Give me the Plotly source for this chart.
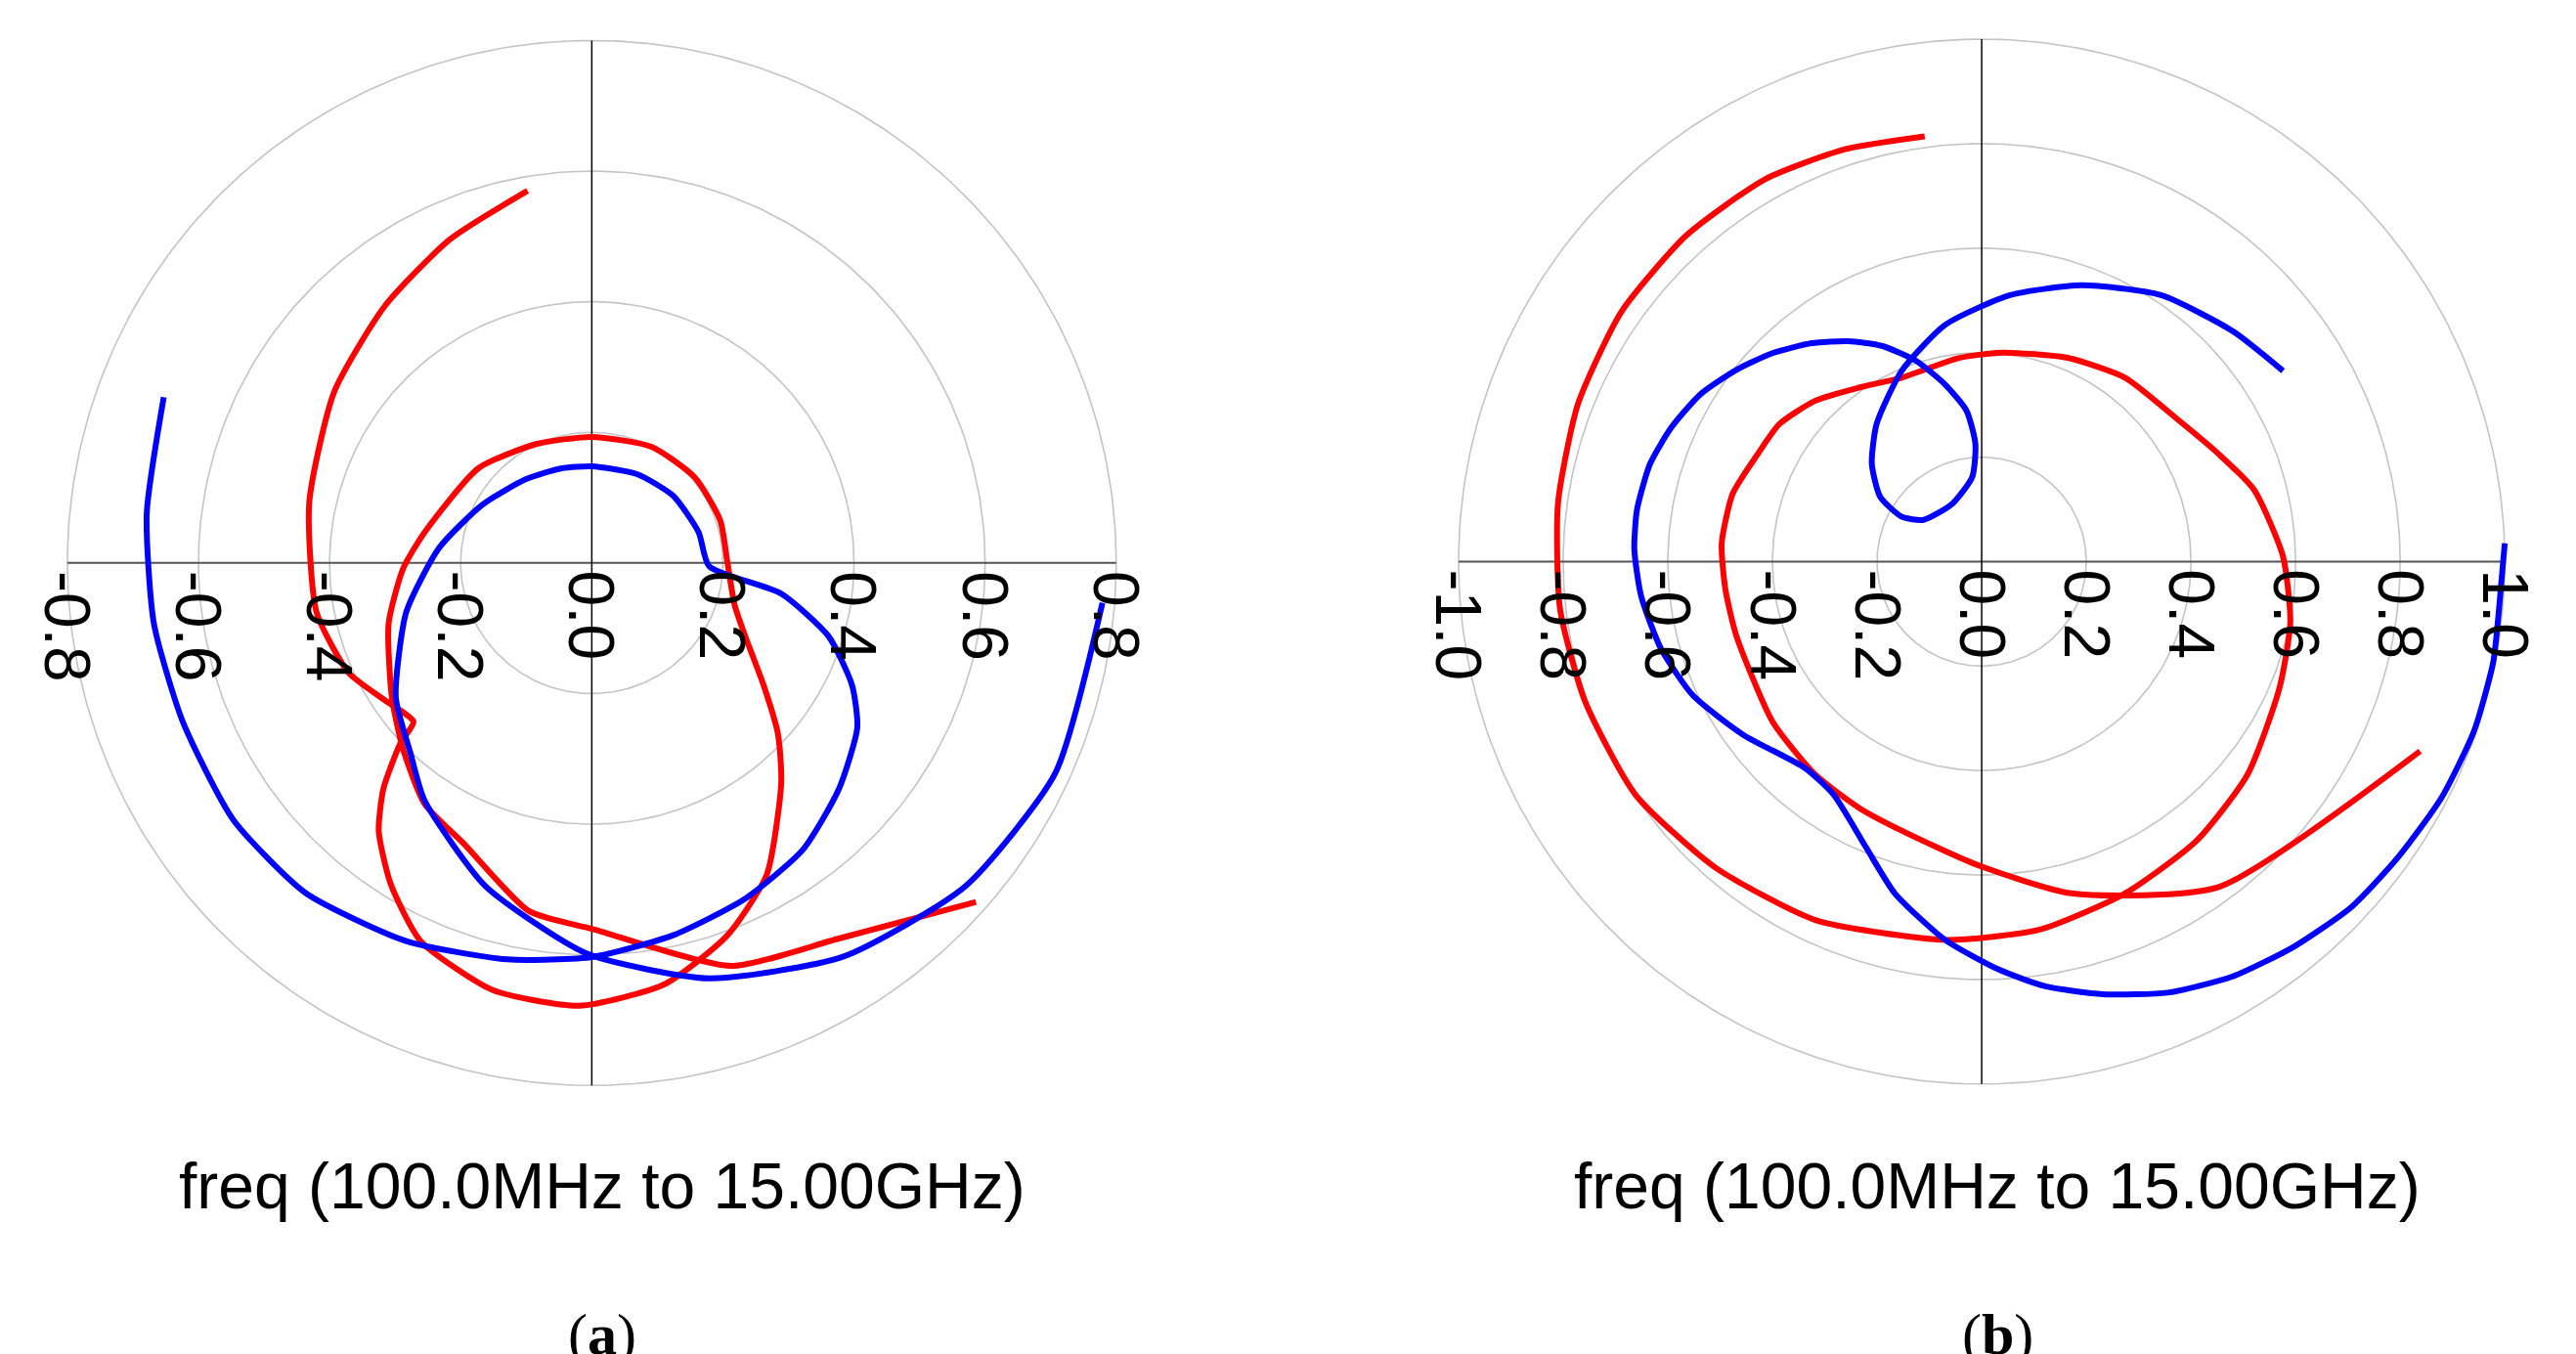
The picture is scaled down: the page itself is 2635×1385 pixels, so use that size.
import numpy as np
import plotly.graph_objects as go

# ---- data (Cartesian reflection-coefficient coordinates) ----
ticks_a = [-0.8, -0.6, -0.4, -0.2, 0.0, 0.2, 0.4, 0.6, 0.8]
ticks_b = [-1.0, -0.8, -0.6, -0.4, -0.2, 0.0, 0.2, 0.4, 0.6, 0.8, 1.0]
rings_a = [0.2, 0.4, 0.6, 0.8]
rings_b = [0.2, 0.4, 0.6, 0.8, 1.0]
title_text = "freq (100.0MHz to 15.00GHz)"

red_a_x = [-0.098,-0.217,-0.316,-0.393,-0.431,-0.420,-0.371,-0.316,-0.272,-0.292,-0.318,-0.325,-0.307,-0.261,-0.151,-0.019,0.111,0.207,0.267,0.289,0.284,0.262,0.234,0.218,0.207,0.196,0.157,0.091,0.0,-0.085,-0.173,-0.255,-0.288,-0.310,-0.305,-0.288,-0.255,-0.195,-0.096,0.003,0.212,0.377,0.586]
red_a_y = [0.570,0.495,0.393,0.262,0.093,-0.075,-0.168,-0.210,-0.243,-0.276,-0.346,-0.411,-0.491,-0.579,-0.654,-0.678,-0.645,-0.570,-0.477,-0.336,-0.262,-0.187,-0.112,-0.065,0.0,0.065,0.131,0.178,0.193,0.182,0.145,0.047,-0.009,-0.093,-0.206,-0.285,-0.369,-0.430,-0.533,-0.561,-0.617,-0.575,-0.519]
blue_a_x = [-0.653,-0.679,-0.668,-0.624,-0.547,-0.437,-0.283,-0.129,0.003,0.124,0.234,0.322,0.377,0.405,0.397,0.361,0.289,0.179,0.163,0.124,0.069,0.0,-0.046,-0.101,-0.167,-0.233,-0.283,-0.299,-0.277,-0.255,-0.162,-0.008,0.179,0.383,0.570,0.707,0.779]
blue_a_y = [0.254,0.075,-0.093,-0.243,-0.393,-0.505,-0.579,-0.607,-0.603,-0.570,-0.514,-0.439,-0.346,-0.252,-0.187,-0.112,-0.047,-0.005,0.047,0.103,0.136,0.148,0.145,0.128,0.089,0.023,-0.075,-0.206,-0.290,-0.364,-0.495,-0.598,-0.636,-0.603,-0.495,-0.322,-0.061]

red_b_x = [-0.109,-0.263,-0.414,-0.565,-0.689,-0.772,-0.810,-0.806,-0.758,-0.662,-0.510,-0.318,-0.070,0.109,0.274,0.411,0.508,0.569,0.590,0.576,0.521,0.453,0.370,0.274,0.164,0.040,-0.043,-0.153,-0.235,-0.318,-0.387,-0.428,-0.476,-0.497,-0.490,-0.469,-0.400,-0.318,-0.235,-0.153,-0.015,0.171,0.453,0.838]
red_b_y = [0.814,0.789,0.732,0.624,0.478,0.301,0.111,-0.091,-0.268,-0.446,-0.585,-0.686,-0.724,-0.705,-0.635,-0.534,-0.408,-0.243,-0.116,0.010,0.137,0.206,0.276,0.352,0.390,0.400,0.390,0.352,0.333,0.308,0.263,0.206,0.130,0.035,-0.053,-0.142,-0.306,-0.408,-0.471,-0.515,-0.578,-0.635,-0.623,-0.363]
blue_b_x = [0.576,0.480,0.343,0.191,0.054,-0.070,-0.153,-0.201,-0.210,-0.194,-0.153,-0.111,-0.056,-0.018,-0.012,-0.029,-0.070,-0.125,-0.191,-0.256,-0.325,-0.400,-0.469,-0.538,-0.593,-0.634,-0.659,-0.664,-0.651,-0.613,-0.552,-0.455,-0.338,-0.283,-0.221,-0.166,-0.070,0.033,0.122,0.232,0.356,0.480,0.597,0.707,0.796,0.879,0.941,0.978,0.989,1.0]
blue_b_y = [0.365,0.441,0.510,0.529,0.510,0.453,0.365,0.263,0.187,0.124,0.086,0.080,0.111,0.162,0.225,0.289,0.339,0.384,0.413,0.422,0.418,0.399,0.367,0.320,0.257,0.187,0.099,0.023,-0.066,-0.167,-0.256,-0.332,-0.395,-0.446,-0.547,-0.635,-0.724,-0.781,-0.813,-0.828,-0.825,-0.794,-0.737,-0.661,-0.566,-0.452,-0.325,-0.192,-0.091,0.035]

fig = go.Figure()
th = np.linspace(0, 2 * np.pi, 361)

def panel(xa, ya, rings, ticks, reds, blues, lab_x, lab):
    R = rings[-1]
    for r in rings:
        fig.add_trace(go.Scatter(x=r * np.cos(th), y=r * np.sin(th), mode="lines",
                                 line=dict(color="#c4c4c4", width=1.6), xaxis=xa, yaxis=ya,
                                 hoverinfo="skip", showlegend=False))
    fig.add_trace(go.Scatter(x=[-R, R], y=[0, 0], mode="lines", line=dict(color="#555", width=2),
                             xaxis=xa, yaxis=ya, showlegend=False))
    fig.add_trace(go.Scatter(x=[0, 0], y=[-R, R], mode="lines", line=dict(color="#000", width=1.5),
                             xaxis=xa, yaxis=ya, showlegend=False))
    fig.add_trace(go.Scatter(x=reds[0], y=reds[1], mode="lines",
                             line=dict(color="#ff0000", width=6, shape="spline", smoothing=0.6),
                             xaxis=xa, yaxis=ya, showlegend=False))
    fig.add_trace(go.Scatter(x=blues[0], y=blues[1], mode="lines",
                             line=dict(color="#0000ff", width=6, shape="spline", smoothing=0.6),
                             xaxis=xa, yaxis=ya, showlegend=False))
    for t in ticks:
        fig.add_annotation(x=t, y=0, xref=xa, yref=ya, text=f"{t:.1f}", showarrow=False,
                           textangle=90, xanchor="center", yanchor="top", yshift=-6,
                           font=dict(family="Liberation Sans, Arial", size=66, color="black"))
    fig.add_annotation(x=lab_x, y=0.13, xref="paper", yref="paper", text=title_text, showarrow=False,
                       xanchor="center", yanchor="middle",
                       font=dict(family="Liberation Sans, Arial", size=66, color="black"))
    fig.add_annotation(x=lab_x, y=0.02, xref="paper", yref="paper", text=lab, showarrow=False,
                       xanchor="center", yanchor="middle",
                       font=dict(family="Liberation Serif, Times New Roman", size=60, color="black"))

panel("x", "y", rings_a, ticks_a, (red_a_x, red_a_y), (blue_a_x, blue_a_y), 608 / 2635, "(<b>a</b>)")
panel("x2", "y2", rings_b, ticks_b, (red_b_x, red_b_y), (blue_b_x, blue_b_y), 2035 / 2635, "(<b>b</b>)")

ax = dict(showgrid=False, zeroline=False, showticklabels=False, ticks="", fixedrange=True)
fig.update_layout(
    width=2635, height=1385, margin=dict(l=0, r=0, t=0, b=0),
    paper_bgcolor="white", plot_bgcolor="white",
    xaxis=dict(ax, range=[-0.85, 0.85], domain=[0.0104, 0.443]),
    yaxis=dict(ax, range=[-0.85, 0.85], domain=[0.180, 1.0]),
    xaxis2=dict(ax, range=[-1.06, 1.06], domain=[0.551, 0.9815]),
    yaxis2=dict(ax, range=[-1.06, 1.06], domain=[0.182, 1.0]),
)
fig.write_html("out.html")
